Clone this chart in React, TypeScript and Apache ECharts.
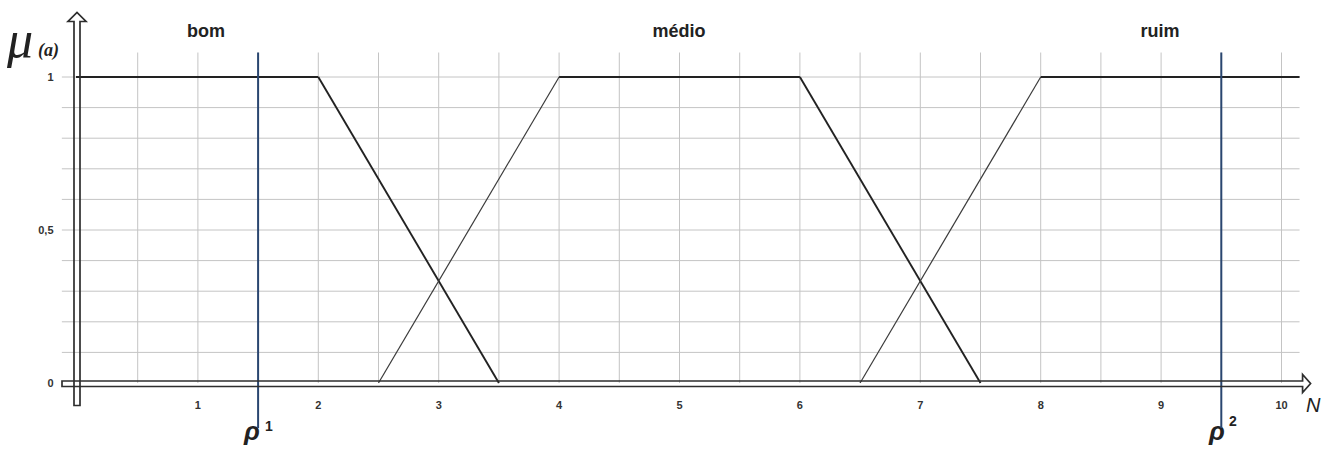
import React, { useEffect, useRef } from "react";
import * as echarts from "echarts";

// ---- data ----
const xTickLabels = ["1", "2", "3", "4", "5", "6", "7", "8", "9", "10"];
const yTickValues = [0, 0.5, 1];
const yTickLabels = ["0", "0,5", "1"];
const setNames = ["bom", "médio", "ruim"];
const bom: number[][] = [[-0.12, 1], [2, 1], [3.5, 0]];
const medio: number[][] = [[2.5, 0], [4, 1], [6, 1], [7.5, 0]];
const ruim: number[][] = [[6.5, 0], [8, 1], [10.15, 1]];
const verticalGrid = [0.5, 1, 1.5, 2, 2.5, 3, 3.5, 4, 4.5, 5, 5.5, 6, 6.5, 7, 7.5, 8, 8.5, 9, 9.5, 10];
const horizontalGrid = [0.1, 0.2, 0.3, 0.4, 0.5, 0.6, 0.7, 0.8, 0.9, 1.0];
const rhoValues = [1.5, 9.5];
const rhoLabels = ["1", "2"];

const X_MAX = 10.2;
const Y_MAX = 1.08;

function segmentSeries(points: number[][]) {
  const out: any[] = [];
  for (let i = 0; i < points.length - 1; i++) {
    const a = points[i];
    const b = points[i + 1];
    const rising = b[1] > a[1];
    out.push({
      type: "line",
      data: [a, b],
      showSymbol: false,
      symbol: "none",
      silent: true,
      z: 5,
      lineStyle: { color: rising ? "#3a3a3a" : "#222222", width: rising ? 1.2 : 1.9 },
    });
  }
  return out;
}

export default function App() {
  const ref = useRef<HTMLDivElement>(null);
  useEffect(() => {
    if (!ref.current) return;
    const chart = echarts.init(ref.current, undefined, { renderer: "svg" });
    const sets = [bom, medio, ruim];
    const lineSeries = sets.flatMap((s) => segmentSeries(s));
    const labelFont = {
      fontSize: 11,
      fontWeight: "bold",
      color: "#333",
      fontFamily: "Liberation Sans",
    };

    const option: any = {
      animation: false,
      backgroundColor: "#ffffff",
      grid: { left: 77.5, top: 383 - Y_MAX * 306, width: X_MAX * 120.4, height: Y_MAX * 306 },
      xAxis: {
        type: "value",
        min: 0,
        max: X_MAX,
        interval: 1,
        axisLine: { show: false },
        axisTick: { show: false },
        splitLine: { show: false },
        axisLabel: {
          ...labelFont,
          margin: 16,
          formatter: (v: number) => {
            const i = Math.round(v);
            if (Math.abs(v - i) > 1e-6 || i < 1 || i > 10) return "";
            return xTickLabels[i - 1];
          },
        },
      },
      yAxis: {
        type: "value",
        min: 0,
        max: Y_MAX,
        interval: 0.5,
        axisLine: { show: false },
        axisTick: { show: false },
        splitLine: { show: false },
        axisLabel: {
          ...labelFont,
          margin: 24,
          formatter: (v: number) => {
            const idx = yTickValues.findIndex((t) => Math.abs(t - v) < 1e-6);
            return idx >= 0 ? yTickLabels[idx] : "";
          },
        },
      },
      series: [
        {
          type: "custom",
          silent: true,
          z: 1,
          data: verticalGrid,
          renderItem: (params: any, api: any) => {
            const x = api.value(0);
            const p0 = api.coord([x, 0]);
            const p1 = api.coord([x, Y_MAX]);
            return {
              type: "line",
              shape: { x1: p0[0], y1: p0[1], x2: p1[0], y2: p1[1] },
              style: { stroke: "#c4c4c4", lineWidth: 1 },
            };
          },
        },
        {
          type: "custom",
          silent: true,
          z: 1,
          data: horizontalGrid,
          renderItem: (params: any, api: any) => {
            const y = api.value(0);
            const p0 = api.coord([-0.13, y]);
            const p1 = api.coord([10.15, y]);
            return {
              type: "line",
              shape: { x1: p0[0], y1: p0[1], x2: p1[0], y2: p1[1] },
              style: { stroke: "#c4c4c4", lineWidth: 1 },
            };
          },
        },
        ...lineSeries,
        {
          type: "custom",
          silent: true,
          z: 6,
          data: rhoValues,
          renderItem: (params: any, api: any) => {
            const x = api.value(0);
            const p0 = api.coord([x, -0.147]);
            const p1 = api.coord([x, Y_MAX]);
            return {
              type: "line",
              shape: { x1: p0[0], y1: p0[1], x2: p1[0], y2: p1[1] },
              style: { stroke: "#2a4670", lineWidth: 2 },
            };
          },
        },
        {
          type: "custom",
          silent: true,
          z: 8,
          data: [[0, 0]],
          renderItem: (params: any, api: any) => {
            const o = api.coord([0, 0]);
            const top = api.coord([0, Y_MAX]);
            const right = api.coord([X_MAX, 0]);
            const ox = o[0] - 0.5;
            const oy = o[1] + 0.5;
            const yArrow = [
              [ox - 3, oy + 22],
              [ox - 3, top[1] - 31],
              [ox - 9, top[1] - 31],
              [ox, top[1] - 40],
              [ox + 9, top[1] - 31],
              [ox + 3, top[1] - 31],
              [ox + 3, oy + 22],
            ];
            const tipX = right[0] + 5;
            const xArrow = [
              [ox - 15, oy - 2.5],
              [tipX - 8, oy - 2.5],
              [tipX - 8, oy - 9],
              [tipX, oy],
              [tipX - 8, oy + 9],
              [tipX - 8, oy + 3],
              [ox - 15, oy + 3],
            ];
            return {
              type: "group",
              children: [
                {
                  type: "polygon",
                  shape: { points: xArrow },
                  style: { fill: "none", stroke: "#2e2e2e", lineWidth: 1.7 },
                },
                {
                  type: "polygon",
                  shape: { points: yArrow },
                  style: { fill: "none", stroke: "#2e2e2e", lineWidth: 1.7 },
                },
              ],
            };
          },
        },
      ],
      graphic: [
        {
          type: "text",
          x: 206,
          y: 31,
          style: { text: setNames[0], font: "bold 18px 'Liberation Sans'", fill: "#222", align: "center", verticalAlign: "middle" },
        },
        {
          type: "text",
          x: 679,
          y: 31,
          style: { text: setNames[1], font: "bold 18px 'Liberation Sans'", fill: "#222", align: "center", verticalAlign: "middle" },
        },
        {
          type: "text",
          x: 1160,
          y: 31,
          style: { text: setNames[2], font: "bold 18px 'Liberation Sans'", fill: "#222", align: "center", verticalAlign: "middle" },
        },
        {
          type: "text",
          x: 7,
          y: 13,
          style: { text: "μ", font: "italic 52px 'Liberation Serif'", fill: "#222", verticalAlign: "top" },
        },
        {
          type: "text",
          x: 38,
          y: 41,
          style: { text: "(a)", font: "italic bold 18px 'Liberation Serif'", fill: "#222", verticalAlign: "top" },
        },
        {
          type: "text",
          x: 244,
          y: 418,
          style: { text: "ρ", font: "italic bold 26px 'Liberation Sans'", fill: "#222", verticalAlign: "top" },
        },
        {
          type: "text",
          x: 265,
          y: 419,
          style: { text: rhoLabels[0], font: "bold 14px 'Liberation Sans'", fill: "#222", verticalAlign: "top" },
        },
        {
          type: "text",
          x: 1209,
          y: 418,
          style: { text: "ρ", font: "italic bold 26px 'Liberation Sans'", fill: "#222", verticalAlign: "top" },
        },
        {
          type: "text",
          x: 1229,
          y: 414,
          style: { text: rhoLabels[1], font: "bold 14px 'Liberation Sans'", fill: "#222", verticalAlign: "top" },
        },
        {
          type: "text",
          x: 1306,
          y: 395,
          style: { text: "N", font: "italic 20px 'Liberation Sans'", fill: "#222", verticalAlign: "top" },
        },
      ],
    };
    chart.setOption(option);
    return () => chart.dispose();
  }, []);
  return (
    <div
      ref={ref}
      style={{ position: "fixed", left: 0, top: 0, width: 1335, height: 449, background: "#fff" }}
    />
  );
}
